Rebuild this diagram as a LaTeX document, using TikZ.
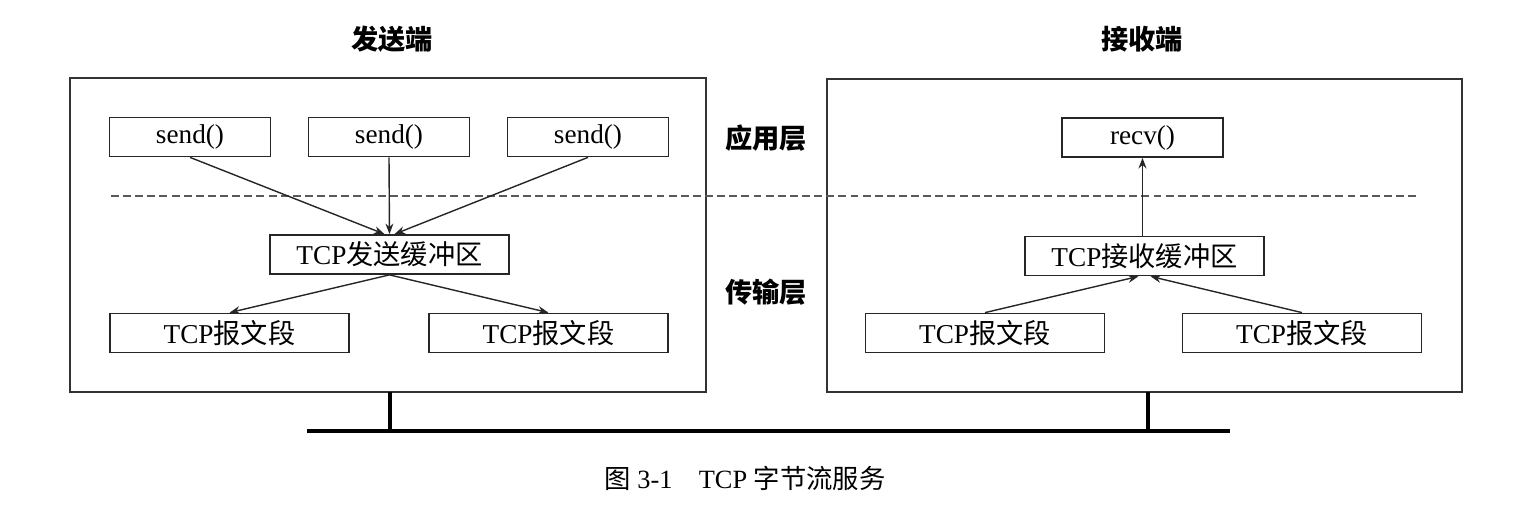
\documentclass[tikz,border=0pt]{standalone}
\usepackage{fontspec}
\setmainfont{Liberation Serif}
\newfontfamily\cjk{Noto Sans CJK SC}
\usetikzlibrary{arrows.meta}
\begin{document}
\begin{tikzpicture}[x=0.02cm,y=-0.02cm,
  box/.style={draw=black!85,line width=1pt,inner sep=0pt,minimum height=0.78cm,font=\fontsize{15.5}{15.5}\selectfont},
  fnbox/.style={box,minimum width=3.22cm},
  bufbox/.style={box,minimum width=4.78cm},
  frame/.style={draw=black!80,line width=1pt},
  conn/.style={draw=black!85,line width=0.8pt,-{Stealth[length=6pt,width=4.5pt]}},
  layer/.style={font=\fontsize{15.5}{15.5}\selectfont\cjk\bfseries},
  title/.style={font=\fontsize{15.5}{15.5}\selectfont\cjk\bfseries},
  ground/.style={draw=black,line width=2.8pt},
  stub/.style={draw=black,line width=1.8pt}]
\useasboundingbox (0,0) rectangle (1526,507);
% frames
\draw[frame] (70,78) rectangle (706,392);
\draw[frame] (827,79) rectangle (1462,392);
% titles
\node[title] (t1) at (392,39) {发送端};
\node[title] (t2) at (1142,39) {接收端};
% dashed layer line
\draw[draw=black!65,line width=1.5pt,dash pattern=on 4.5pt off 2.4pt] (111,196) -- (1419,196);
% layer labels
\node[layer] (la) at (766,138) {应用层};
\node[layer] (lt) at (766,292) {传输层};
% sender
\node[fnbox] (s1) at (190,137) {send()};
\node[fnbox] (s2) at (389,137) {send()};
\node[fnbox] (s3) at (588,137) {send()};
\node[bufbox] (sb) at (389.5,254.5) {TCP{\cjk 发送缓冲区}};
\node[bufbox] (g1) at (229.5,333) {TCP{\cjk 报文段}};
\node[bufbox] (g2) at (548.5,333) {TCP{\cjk 报文段}};
\draw[conn] (s1.south) -- ([xshift=-0.1cm]sb.north);
\draw[conn] (s2.south) -- (sb.north);
\draw[conn] (s3.south) -- ([xshift=0.1cm]sb.north);
\draw[conn] (sb.south) -- (g1.north);
\draw[conn] (sb.south) -- (g2.north);
% receiver
\node[fnbox] (rv) at (1142.5,137.5) {recv()};
\node[bufbox] (rb) at (1144.5,256) {TCP{\cjk 接收缓冲区}};
\node[bufbox] (h1) at (985,333) {TCP{\cjk 报文段}};
\node[bufbox] (h2) at (1302,333) {TCP{\cjk 报文段}};
\draw[conn] (rb.north -| rv.south) -- (rv.south);
\draw[conn] (h1.north) -- ([xshift=-0.12cm]rb.south);
\draw[conn] (h2.north) -- ([xshift=0.12cm]rb.south);
% network
\coordinate (n1) at (390,392);
\coordinate (n2) at (1148,392);
\coordinate (b1) at (390,431);
\coordinate (b2) at (1148,431);
\draw[stub] (n1) -- (b1);
\draw[stub] (n2) -- (b2);
\draw[ground] (307,431) -- (1230,431);
% caption
\node[font=\fontsize{15}{15}\selectfont] (cap) at (745,478) {{\cjk 图} 3-1\quad TCP {\cjk 字节流服务}};
\end{tikzpicture}
\end{document}
